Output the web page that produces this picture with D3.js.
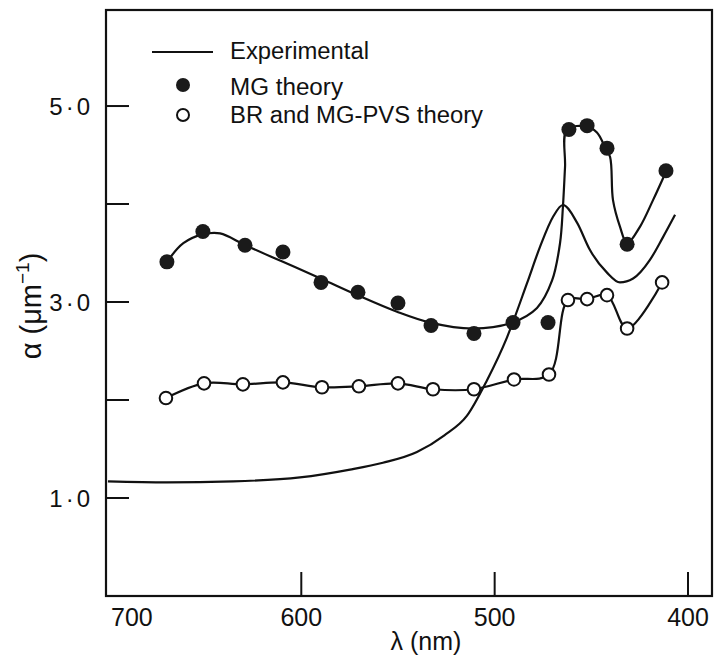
<!DOCTYPE html>
<html>
<head>
<meta charset="utf-8">
<script src="https://cdn.jsdelivr.net/npm/d3@7"></script>
<style>
  html, body { margin: 0; padding: 0; background: #fff; }
  svg { display: block; }
  text { font-family: "Liberation Sans", Arial, Helvetica, sans-serif; fill: #111; }
</style>
</head>
<body>
<svg id="chart" width="715" height="657"></svg>
<script>
// ---- Data ----
// Experimental absorption curve: wavelength (nm), alpha (um^-1)
const expWave  = [700, 669.5, 635.3, 600.7, 574.8, 557.8, 540.2, 526.0, 514.3, 504.0, 493.6, 483.3, 476.6, 469.8, 464.7, 457.4, 450.7, 441.9, 435.2, 428.4, 419.7, 413.0, 406.7];
const expAlpha = [1.17, 1.16, 1.17, 1.21, 1.29, 1.36, 1.47, 1.64, 1.84, 2.20, 2.64, 3.19, 3.56, 3.87, 3.99, 3.81, 3.53, 3.30, 3.20, 3.24, 3.43, 3.66, 3.89];

// MG theory points
const mgWave  = [669.5, 650.9, 629.1, 609.5, 589.8, 570.7, 550.0, 532.9, 510.7, 490.5, 472.4, 461.6, 452.2, 441.9, 431.5, 411.4];
const mgAlpha = [3.41, 3.72, 3.58, 3.51, 3.20, 3.10, 2.99, 2.76, 2.68, 2.79, 2.79, 4.76, 4.80, 4.57, 3.59, 4.34];

// Hand-drawn guide line through the MG theory points
const mgLineWave  = [669.5, 661.0, 651.0, 642.0, 629.0, 609.5, 590.0, 571.0, 550.5, 533.4, 511.2, 491.0, 478.1, 470.3, 466.2, 464.7, 463.6, 462.6, 452.2, 447.1, 442.9, 440.3, 438.8, 435.2, 431.5, 424.8, 418.1, 411.4];
const mgLineAlpha = [3.41, 3.60, 3.69, 3.70, 3.58, 3.41, 3.24, 3.07, 2.90, 2.79, 2.73, 2.79, 2.94, 3.22, 3.60, 3.97, 4.38, 4.76, 4.79, 4.73, 4.58, 4.48, 4.04, 3.77, 3.60, 3.77, 4.04, 4.33];

// BR and MG-PVS theory points
const brWave  = [670.0, 650.3, 630.2, 609.5, 589.3, 570.2, 550.0, 531.9, 510.7, 490.0, 471.9, 462.1, 452.2, 441.9, 431.5, 413.4];
const brAlpha = [2.02, 2.17, 2.16, 2.18, 2.13, 2.14, 2.17, 2.11, 2.11, 2.21, 2.26, 3.02, 3.03, 3.07, 2.73, 3.20];

// Axis ticks and labels
const xTicks = [700, 600, 500, 400];
const xTickLabels = ["700", "600", "500", "400"];
const yTicks = [1, 2, 3, 4, 5];
const yTickLabels = {1: "1·0", 3: "3·0", 5: "5·0"};

const legendLabels = ["Experimental", "MG theory", "BR and MG-PVS theory"];

// ---- Drawing ----
const svg = d3.select("#chart");
const x = d3.scaleLinear().domain([701, 387.6]).range([106, 712]);
const y = d3.scaleLinear().domain([0, 5.98]).range([596, 10]);

const ink = "#111";

// frame
svg.append("rect")
  .attr("x", x(701)).attr("y", y(5.98))
  .attr("width", x(387.6) - x(701)).attr("height", y(0) - y(5.98))
  .attr("fill", "none").attr("stroke", ink).attr("stroke-width", 2.2);

// y ticks (inward)
svg.append("g").selectAll("line").data(yTicks).join("line")
  .attr("x1", x(701)).attr("x2", x(701) + 23)
  .attr("y1", d => y(d)).attr("y2", d => y(d))
  .attr("stroke", ink).attr("stroke-width", 2);

svg.append("g").selectAll("text").data(yTicks.filter(d => yTickLabels[d])).join("text")
  .attr("x", 93).attr("y", d => y(d) + 9)
  .attr("text-anchor", "end")
  .attr("font-size", 24)
  .attr("letter-spacing", 3)
  .text(d => yTickLabels[d]);

// x ticks (inward, none at the corner)
svg.append("g").selectAll("line").data(xTicks.slice(1)).join("line")
  .attr("x1", d => x(d)).attr("x2", d => x(d))
  .attr("y1", y(0)).attr("y2", y(0) - 24)
  .attr("stroke", ink).attr("stroke-width", 2);

svg.append("g").selectAll("text").data(xTicks).join("text")
  .attr("x", (d, i) => i === 0 ? x(d) + 24 : x(d))
  .attr("y", 626)
  .attr("text-anchor", "middle")
  .attr("font-size", 25)
  .text((d, i) => xTickLabels[i]);

// axis titles
svg.append("text")
  .attr("x", 426).attr("y", 650)
  .attr("text-anchor", "middle")
  .attr("font-size", 25)
  .text("λ (nm)");

const yt = svg.append("text")
  .attr("transform", "translate(41,306) rotate(-90)")
  .attr("text-anchor", "middle")
  .attr("font-size", 29);
yt.append("tspan").text("α (μm");
yt.append("tspan").attr("dy", -12).attr("font-size", 19).text("−1");
yt.append("tspan").attr("dy", 12).text(")");

// lines
const expData = expWave.map((w, i) => [w, expAlpha[i]]);
const mgLineData = mgLineWave.map((w, i) => [w, mgLineAlpha[i]]);
const mgData = mgWave.map((w, i) => [w, mgAlpha[i]]);
const brData = brWave.map((w, i) => [w, brAlpha[i]]);

const line = d3.line().x(d => x(d[0])).y(d => y(d[1])).curve(d3.curveCatmullRom.alpha(0.5));
const smooth = d3.line().x(d => x(d[0])).y(d => y(d[1])).curve(d3.curveMonotoneX);

svg.append("path").datum(expData).attr("d", smooth)
  .attr("fill", "none").attr("stroke", ink).attr("stroke-width", 2.2);
svg.append("path").datum(mgLineData).attr("d", line)
  .attr("fill", "none").attr("stroke", ink).attr("stroke-width", 2.2);
svg.append("path").datum(brData).attr("d", line)
  .attr("fill", "none").attr("stroke", ink).attr("stroke-width", 2.2);

// markers
svg.append("g").selectAll("circle").data(mgData).join("circle")
  .attr("cx", d => x(d[0])).attr("cy", d => y(d[1])).attr("r", 7.5)
  .attr("fill", "#1a1a1a");
svg.append("g").selectAll("circle").data(brData).join("circle")
  .attr("cx", d => x(d[0])).attr("cy", d => y(d[1])).attr("r", 6.3)
  .attr("fill", "#fff").attr("stroke", ink).attr("stroke-width", 2);

// legend
const lg = svg.append("g");
lg.append("line").attr("x1", 152).attr("x2", 213).attr("y1", 52).attr("y2", 52)
  .attr("stroke", ink).attr("stroke-width", 2.2);
lg.append("circle").attr("cx", 183).attr("cy", 85).attr("r", 7).attr("fill", "#1a1a1a");
lg.append("circle").attr("cx", 183).attr("cy", 115).attr("r", 6).attr("fill", "#fff")
  .attr("stroke", ink).attr("stroke-width", 2);
const legY = [59, 95, 123];
const legW = [139, 113, 253];
lg.selectAll("text.leg").data(legendLabels).join("text")
  .attr("class", "leg")
  .attr("x", 230).attr("y", (d, i) => legY[i])
  .attr("font-size", 23)
  .attr("textLength", (d, i) => legW[i])
  .attr("lengthAdjust", "spacingAndGlyphs")
  .text(d => d);
</script>
</body>
</html>
